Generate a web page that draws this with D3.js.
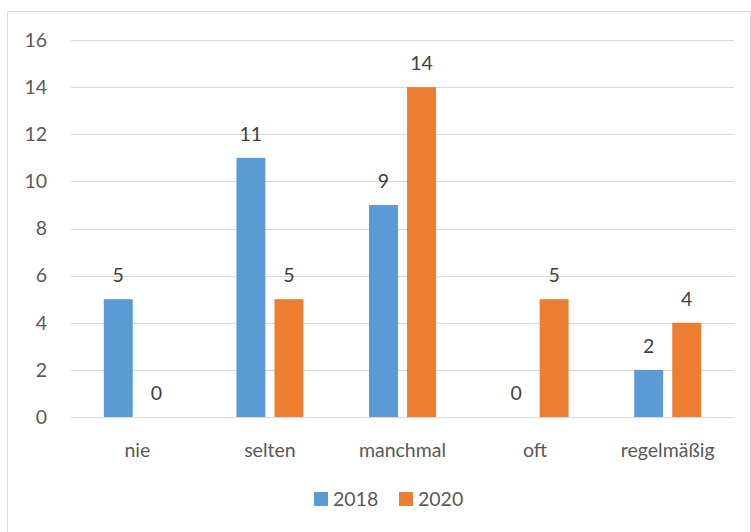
<!DOCTYPE html>
<html>
<head>
<meta charset="utf-8">
<script src="https://cdn.jsdelivr.net/npm/d3@7"></script>
<style>
  body { margin: 0; background: #fff; }
  svg { display: block; font-family: Lato, "Liberation Sans", sans-serif; }
</style>
</head>
<body>
<div id="chart"></div>
<script>
const categories = ['nie', 'selten', 'manchmal', 'oft', 'regelmäßig'];
const seriesNames = ['2018', '2020'];
const values2018 = [5, 11, 9, 0, 2];
const values2020 = [0, 5, 14, 5, 4];
const yTicks = [0, 2, 4, 6, 8, 10, 12, 14, 16];
const colors = ['#5B9BD5', '#ED7D31'];

const W = 751, H = 532;
const plotL = 71, plotR = 734, plotT = 40, plotB = 417;
const fs = '19.5px';

const svg = d3.select('#chart').append('svg')
    .attr('width', W)
    .attr('height', H);

// outer frame
svg.append('rect')
    .attr('x', 7.5).attr('y', 11.5)
    .attr('width', W - 8).attr('height', H - 10)
    .attr('fill', '#fff')
    .attr('stroke', '#d9d9d9');

const y = d3.scaleLinear().domain([0, 16]).range([plotB, plotT]);
const x0 = d3.scaleBand().domain(categories).range([plotL, plotR])
    .paddingInner(0.495).paddingOuter(0.2475);
const x1 = d3.scaleBand().domain(seriesNames).range([0, x0.bandwidth()])
    .paddingInner(0.24);

// gridlines
svg.append('g')
    .selectAll('line')
    .data(yTicks)
    .join('line')
    .attr('x1', plotL).attr('x2', plotR)
    .attr('y1', d => Math.round(y(d)) + 0.5)
    .attr('y2', d => Math.round(y(d)) + 0.5)
    .attr('stroke', '#d9d9d9')
    .attr('stroke-width', 1);

// y axis labels
const yAxis = svg.append('g')
    .attr('transform', `translate(${plotL - 24},0)`)
    .call(d3.axisLeft(y).tickValues(yTicks).tickSize(0).tickPadding(0));
yAxis.select('.domain').remove();
yAxis.selectAll('text')
    .attr('fill', '#595959')
    .style('font-size', fs)
    .style('font-family', 'Lato, "Liberation Sans", sans-serif');

// x axis labels
const xAxis = svg.append('g')
    .attr('transform', `translate(0,${plotB + 26})`)
    .call(d3.axisBottom(x0).tickSize(0).tickPadding(0));
xAxis.select('.domain').remove();
xAxis.selectAll('text')
    .attr('fill', '#595959')
    .style('font-size', fs)
    .style('font-family', 'Lato, "Liberation Sans", sans-serif');

const rows = categories.map((c, i) => ({
    cat: c,
    vals: [values2018[i], values2020[i]]
}));

const groups = svg.append('g')
    .selectAll('g')
    .data(rows)
    .join('g')
    .attr('transform', d => `translate(${x0(d.cat)},0)`);

groups.selectAll('rect')
    .data(d => d.vals.map((v, k) => ({ s: seriesNames[k], v, k })))
    .join('rect')
    .attr('x', d => x1(d.s))
    .attr('y', d => y(d.v))
    .attr('width', x1.bandwidth())
    .attr('height', d => y(0) - y(d.v))
    .attr('fill', d => colors[d.k]);

groups.selectAll('text')
    .data(d => d.vals.map((v, k) => ({ s: seriesNames[k], v, k })))
    .join('text')
    .attr('x', d => x1(d.s) + x1.bandwidth() / 2)
    .attr('y', d => y(d.v) - 17)
    .attr('text-anchor', 'middle')
    .attr('fill', '#404040')
    .style('font-size', fs)
    .text(d => d.v);

// legend
const legend = svg.append('g').attr('transform', 'translate(314,499)');
const legX = [0, 85];
seriesNames.forEach((s, k) => {
    const g = legend.append('g').attr('transform', `translate(${legX[k]},0)`);
    g.append('rect')
        .attr('x', 0).attr('y', -7)
        .attr('width', 14).attr('height', 14)
        .attr('fill', colors[k]);
    g.append('text')
        .attr('x', 19).attr('y', 7)
        .attr('fill', '#595959')
        .style('font-size', fs)
        .text(s);
});
</script>
</body>
</html>
